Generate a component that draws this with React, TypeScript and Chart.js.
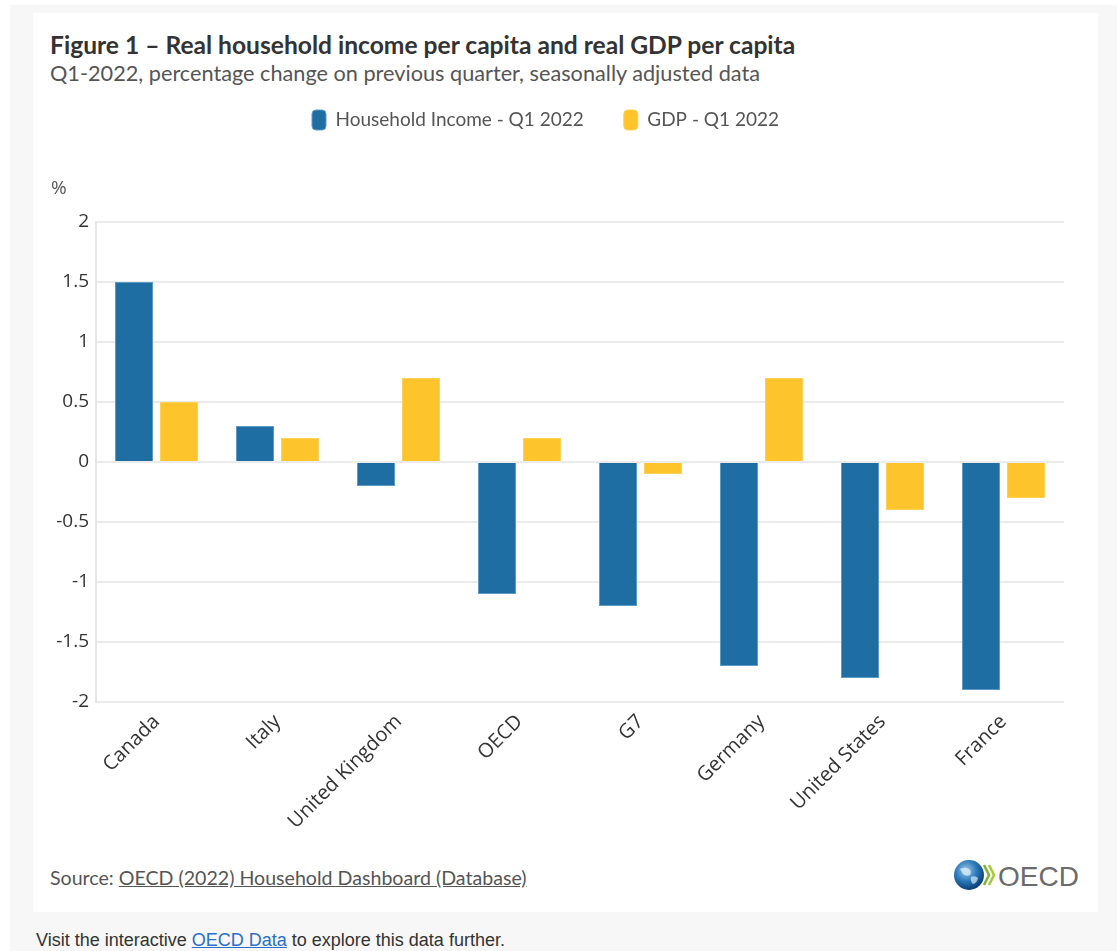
import React, { useEffect, useRef } from "react";
import { Chart, registerables } from "chart.js";
Chart.register(...registerables);

const categories = ["Canada", "Italy", "United Kingdom", "OECD", "G7", "Germany", "United States", "France"];
const householdIncome = [1.5, 0.3, -0.2, -1.1, -1.2, -1.7, -1.8, -1.9];
const gdp = [0.5, 0.2, 0.7, 0.2, -0.1, 0.7, -0.4, -0.3];
const seriesLabels = ["Household Income - Q1 2022", "GDP - Q1 2022"];
const yTicks = [-2, -1.5, -1, -0.5, 0, 0.5, 1, 1.5, 2];

const CANVAS_LEFT = 33;
const CANVAS_TOP = 70;
const CANVAS_W = 1065;
const CANVAS_H = 775;
const LEGEND_H = 152;
const Y_AXIS_W = 63;
const X_AXIS_H = 143;
const LEGEND_SHIFT = -3;

const layoutPlugin = {
  id: "layoutTweak",
  beforeLayout(chart: any) {
    const lg = chart.legend;
    if (lg && !lg.__patched) {
      const fit = lg.fit;
      lg.fit = function () {
        fit.call(this);
        this.height = LEGEND_H;
      };
      lg.__patched = true;
    }
  },
  afterLayout(chart: any) {
    if (chart.legend) {
      chart.legend.left += LEGEND_SHIFT;
      chart.legend.right += LEGEND_SHIFT;
    }
  },
};

function OecdLogo() {
  return (
    <svg width="140" height="36" viewBox="0 0 140 36" style={{ position: "absolute", left: 951, top: 857 }}>
      <defs>
        <radialGradient id="glb" cx="40%" cy="35%" r="65%">
          <stop offset="0%" stopColor="#9cc8ea" />
          <stop offset="55%" stopColor="#2b79b8" />
          <stop offset="100%" stopColor="#0b3f78" />
        </radialGradient>
      </defs>
      <circle cx="18" cy="18" r="15" fill="url(#glb)" />
      <path d="M9 12 q5 -3 9 0 q3 2 1 6 q-4 2 -7 -1 z" fill="#d9ecf9" opacity="0.8" />
      <path d="M20 20 q4 -2 7 1 q-1 5 -5 6 q-3 -3 -2 -7 z" fill="#d9ecf9" opacity="0.7" />
      <path d="M33 8 l5 10 l-5 10" stroke="#7fb236" strokeWidth="2.6" fill="none" />
      <path d="M38 8 l5 10 l-5 10" stroke="#a6c93a" strokeWidth="2.6" fill="none" />
      <text x="47" y="29" fontFamily="Liberation Sans, Arial, sans-serif" fontSize="28" fill="#6b6b6b">OECD</text>
    </svg>
  );
}

export default function App() {
  const ref = useRef<HTMLCanvasElement>(null);

  useEffect(() => {
    if (!ref.current) return;
    const chart = new Chart(ref.current, {
      type: "bar",
      data: {
        labels: categories,
        datasets: [
          {
            label: seriesLabels[0],
            data: householdIncome,
            backgroundColor: "#1f6ea3",
            borderColor: "#5d9ac6",
            borderWidth: 1,
            categoryPercentage: 0.744,
            barPercentage: 0.845,
          },
          {
            label: seriesLabels[1],
            data: gdp,
            backgroundColor: "#fec42c",
            borderColor: "#fdd15a",
            borderWidth: 1,
            categoryPercentage: 0.744,
            barPercentage: 0.845,
          },
        ],
      },
      options: {
        responsive: false,
        animation: false,
        layout: { padding: { left: 0, right: 34, top: 0, bottom: 0 } },
        plugins: {
          tooltip: { enabled: false },
          legend: {
            display: true,
            position: "top",
            labels: {
              font: { family: "Lato", size: 19 },
              color: "#555555",
              boxWidth: 14,
              boxHeight: 20,
              useBorderRadius: true,
              borderRadius: 4,
              padding: 40,
            },
          },
        },
        scales: {
          x: {
            grid: { display: false },
            border: { display: false },
            ticks: {
              font: { family: "Open Sans", size: 20 },
              color: "#333333",
              minRotation: 45,
              maxRotation: 45,
              padding: 0,
            },
            afterFit: (s: any) => {
              s.height = X_AXIS_H;
            },
          },
          y: {
            min: -2,
            max: 2,
            grid: { color: "#ebebeb", lineWidth: 2, drawTicks: false },
            border: { display: true, color: "#e6e6e6", width: 2 },
            ticks: {
              font: { family: "Open Sans", size: 19 },
              color: "#333333",
              padding: 7,
              callback: (v: any) => String(Number(v)),
            },
            afterBuildTicks: (s: any) => {
              s.ticks = yTicks.map((v) => ({ value: v }));
            },
            afterFit: (s: any) => {
              s.width = Y_AXIS_W;
            },
          },
        },
      },
      plugins: [layoutPlugin],
    });
    return () => chart.destroy();
  }, []);

  return (
    <div style={{ position: "fixed", left: 0, top: 0, width: 1117, height: 951, background: "#ffffff", overflow: "hidden" }}>
      <div style={{ position: "absolute", left: 10, top: 5, right: 0, bottom: 0, background: "#f7f7f7" }} />
      <div style={{ position: "absolute", left: 33, top: 13, width: 1065, height: 899, background: "#ffffff" }} />
      <div style={{ position: "absolute", left: 50, top: 31, fontFamily: "Lato", fontWeight: 700, fontSize: 24.6, lineHeight: "28px", color: "#333333", whiteSpace: "nowrap" }}>
        Figure 1 – Real household income per capita and real GDP per capita
      </div>
      <div style={{ position: "absolute", left: 50, top: 60, fontFamily: "Lato", fontSize: 21.7, lineHeight: "26px", color: "#555555", whiteSpace: "nowrap" }}>
        Q1-2022, percentage change on previous quarter, seasonally adjusted data
      </div>
      <canvas
        ref={ref}
        width={CANVAS_W}
        height={CANVAS_H}
        style={{ position: "absolute", left: CANVAS_LEFT, top: CANVAS_TOP, width: CANVAS_W, height: CANVAS_H }}
      />
      <div style={{ position: "absolute", left: 51, top: 174, fontFamily: "Open Sans", fontSize: 19, lineHeight: "26px", color: "#555555" }}>%</div>
      <div style={{ position: "absolute", left: 50, top: 865, fontFamily: "Lato", fontSize: 19.6, lineHeight: "25px", color: "#555555", whiteSpace: "nowrap" }}>
        Source: <span style={{ textDecoration: "underline" }}>OECD (2022) Household Dashboard (Database)</span>
      </div>
      <OecdLogo />
      <div style={{ position: "absolute", left: 36, top: 929, fontFamily: "Liberation Sans, Arial, sans-serif", fontSize: 18, lineHeight: "22px", color: "#333333", whiteSpace: "nowrap" }}>
        Visit the interactive <span style={{ color: "#2a6fc9", textDecoration: "underline" }}>OECD Data</span> to explore this data further.
      </div>
    </div>
  );
}
